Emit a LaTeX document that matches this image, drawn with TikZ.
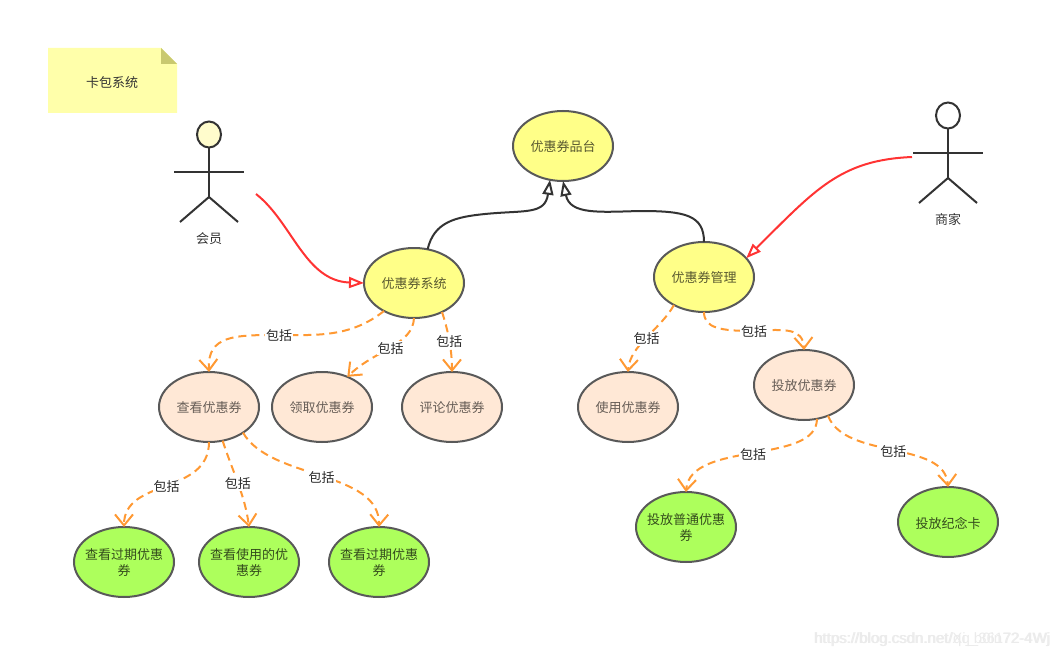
\documentclass[tikz,border=0pt]{standalone}
\usepackage{fontspec}
\setmainfont{Noto Sans CJK SC}
\newfontfamily\wmfont{Liberation Sans}
\usetikzlibrary{shapes.geometric,arrows.meta}
\definecolor{yel}{HTML}{FFFF88}
\definecolor{pea}{HTML}{FFE8D6}
\definecolor{gre}{HTML}{ADFF5C}
\definecolor{edgegray}{HTML}{595959}
\definecolor{orng}{HTML}{FF9933}
\definecolor{redl}{HTML}{FF3333}
\definecolor{ink}{HTML}{333333}
\definecolor{notey}{HTML}{FFFFAA}
\definecolor{notef}{HTML}{C9C970}
\newcommand{\dn}[1]{\raisebox{-1pt}[\height][\depth]{#1}}
\tikzset{
  x=1pt,y=-1pt,
  base/.style={shape=ellipse,draw=edgegray,line width=2pt,minimum width=100pt,minimum height=70pt,inner sep=-6pt,outer sep=0pt,align=center,font=\fontsize{13}{16}\selectfont},
  ucy/.style={base,fill=yel,text=black!65!yel},
  ucp/.style={base,fill=pea,text=black!60!pea},
  ucg/.style={base,fill=gre,text=black!70!gre},
  inc/.style={draw=orng,line width=2pt,dash pattern=on 8pt off 5pt,-{Straight Barb[length=11pt,width=18pt,line width=2pt]}},
  lab/.style={fill=white,inner sep=1pt,yshift=-1pt,text=ink!80!black,font=\fontsize{13}{16}\selectfont},
  assoc/.style={draw=redl,line width=2pt,-{Triangle[open,length=15pt,width=11pt,line width=2pt,fill=white]}},
  gen/.style={draw=ink,line width=2pt,-{Triangle[open,length=15pt,width=11pt,line width=2pt,fill=white]}},
  limb/.style={draw=ink,line width=2pt},
  acttext/.style={text=ink,font=\fontsize{13}{16}\selectfont},
  wm/.style={text=black!8,font=\wmfont\fontsize{15}{18}\selectfont,inner sep=0pt}
}
\begin{document}
\begin{tikzpicture}
\useasboundingbox (0,0) rectangle (1060,658);
% note
\fill[notey] (48,48) -- (161,48) -- (177,64) -- (177,113) -- (48,113) -- cycle;
\fill[notef] (161,48) -- (177,64) -- (161,64) -- cycle;
\node[acttext] (note) at (112,83) {卡包系统};
% actors
\node[shape=ellipse,draw=ink,line width=2pt,fill=yellow!20,minimum width=24pt,minimum height=26pt,inner sep=0pt] (h1) at (209,134.5) {};
\coordinate (a1l) at (174,172); \coordinate (a1r) at (244,172);
\coordinate (a1hip) at (209,197); \coordinate (a1fl) at (180,222); \coordinate (a1fr) at (238,222);
\draw[limb] (h1.south) -- (a1hip);
\draw[limb] (a1l) -- (a1r);
\draw[limb] (a1fl) -- (a1hip) -- (a1fr);
\node[acttext] (member) at (209,239) {会员};
\node[shape=ellipse,draw=ink,line width=2pt,fill=white,minimum width=24pt,minimum height=26pt,inner sep=0pt] (h2) at (948,115.5) {};
\coordinate (a2l) at (913,153); \coordinate (a2r) at (983,153);
\coordinate (a2hip) at (948,178); \coordinate (a2fl) at (919,203); \coordinate (a2fr) at (977,203);
\draw[limb] (h2.south) -- (a2hip);
\draw[limb] (a2l) -- (a2r);
\draw[limb] (a2fl) -- (a2hip) -- (a2fr);
\node[acttext] (biz) at (948,220) {商家};
% use cases
\node[ucy] (pt) at (563,146) {\dn{优惠券品台}};
\node[ucy] (sys) at (414,283) {\dn{优惠券系统}};
\node[ucy] (mgr) at (704,277) {\dn{优惠券管理}};
\node[ucp] (view) at (209,407) {\dn{查看优惠券}};
\node[ucp] (get) at (322,407) {\dn{领取优惠券}};
\node[ucp] (cmt) at (452,407) {\dn{评论优惠券}};
\node[ucp] (use) at (628,407) {\dn{使用优惠券}};
\node[ucp] (put) at (804,385) {\dn{投放优惠券}};
\node[ucg] (v1) at (124,562) {\dn{查看过期优惠}\\\dn{券}};
\node[ucg] (v2) at (249,562) {\dn{查看使用的优}\\\dn{惠券}};
\node[ucg] (v3) at (379,562) {\dn{查看过期优惠}\\\dn{券}};
\node[ucg] (p1) at (686,527) {\dn{投放普通优惠}\\\dn{券}};
\node[ucg] (p2) at (948,522) {\dn{投放纪念卡}};
% associations
\coordinate (s1) at (256,194);
\coordinate (s2) at (912,157);
\draw[assoc] (s1) .. controls (292,222) and (305,281) .. (sys.west);
\draw[assoc] (s2) .. controls (840,160) and (815,190) .. (mgr.24);
% generalisations
\coordinate (g1) at (485,214);
\coordinate (g2) at (640,211);
\draw[gen] (sys.68) .. controls (434,222) and (455,217) .. (g1) .. controls (525,210) and (545,215) .. (pt.249);
\draw[gen] (mgr.north) .. controls (704,215) and (685,211) .. (g2) .. controls (600,212) and (570,215) .. (pt.south);
% includes
\coordinate (m1) at (279,335);
\coordinate (m8) at (754,331);
\draw[inc] (sys.-137) .. controls (350,338) and (315,335) .. (m1) .. controls (235,335) and (207,335) .. (view.north);
\node[lab] (l1) at (m1) {包括};
\draw[inc] (sys.south) .. controls (413,345) and (375,350) .. node[lab,pos=.5] (l2) {包括} (get.50);
\draw[inc] (sys.-46) .. controls (448,330) and (452,350) .. node[lab,pos=.5] (l3) {包括} (cmt.north);
\draw[inc] (view.south) .. controls (209,495) and (124,478) .. node[lab,pos=.5] (l4) {包括} (v1.north);
\draw[inc] (view.-68) .. controls (232,470) and (245,495) .. node[lab,pos=.5] (l5) {包括} (v2.north);
\draw[inc] (view.-37) .. controls (270,480) and (380,470) .. node[lab,pos=.5] (l6) {包括} (v3.north);
\draw[inc] (mgr.-137) .. controls (660,330) and (630,345) .. node[lab,pos=.5] (l7) {包括} (use.north);
\draw[inc] (mgr.south) .. controls (704,328) and (720,331) .. (m8) .. controls (785,329) and (803,328) .. (put.north);
\node[lab] (l8) at (m8) {包括};
\draw[inc] (put.-69) .. controls (817,465) and (690,440) .. node[lab,pos=.5] (l9) {包括} (p1.north);
\draw[inc] (put.-52) .. controls (845,460) and (945,440) .. node[lab,pos=.5] (l10) {包括} (p2.north);
% watermark
\node[wm,anchor=east] (w1) at (1050,640) {https://blog.csdn.net/Xi\_b0in72-4Wj};
\node[wm,anchor=east] (w2) at (1051,640) {https://blog.csdn.net/qq\_36172-4Wj};
\end{tikzpicture}
\end{document}
